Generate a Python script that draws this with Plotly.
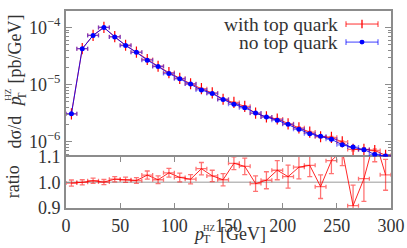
import plotly.graph_objects as go

# ---------------- data ----------------
pt = [5, 15, 25, 35, 45, 55, 65, 75, 85, 95, 105, 115, 125, 135, 145,
      155, 165, 175, 185, 195, 205, 215, 225, 235, 245, 255, 265, 275, 285, 295]
bin_half = [5] * 30
no_top = [3.08e-6, 4.24e-5, 7.24e-5, 1.0e-4, 6.81e-5, 4.83e-5, 3.66e-5, 2.67e-5,
          2.07e-5, 1.56e-5, 1.26e-5, 1.02e-5, 8.04e-6, 6.97e-6, 5.47e-6, 4.52e-6,
          3.92e-6, 3.17e-6, 2.69e-6, 2.38e-6, 2.01e-6, 1.65e-6, 1.38e-6, 1.24e-6,
          1.10e-6, 8.78e-7, 8.04e-7, 7.24e-7, 5.98e-7, 5.6e-7]
ratio = [0.997, 1.000, 1.006, 1.001, 1.012, 1.010, 1.007, 1.028, 1.010, 1.037,
         1.019, 1.012, 1.053, 1.025, 1.010, 1.074, 1.062, 0.995, 1.008, 1.047,
         1.022, 1.059, 1.066, 0.983, 1.084, 1.125, 0.909, 1.014, 1.17, 1.029]
ratio_err = [0.012, 0.010, 0.010, 0.010, 0.010, 0.010, 0.011, 0.016, 0.015, 0.017,
             0.017, 0.018, 0.024, 0.022, 0.024, 0.025, 0.032, 0.030, 0.033, 0.037,
             0.045, 0.046, 0.044, 0.046, 0.050, 0.060, 0.080, 0.088, 0.090, 0.060]
with_top = [b * r for b, r in zip(no_top, ratio)]
top_err_rel = [e * 0.7 for e in ratio_err]
no_top_err = [b * e for b, e in zip(no_top, top_err_rel)]
with_top_err = [b * e for b, e in zip(with_top, top_err_rel)]

x_ticks = [0, 50, 100, 150, 200, 250, 300]
y_ticks = [1e-6, 1e-5, 1e-4]
y_ticktext = ["10<sup>−6</sup>", "10<sup>−5</sup>", "10<sup>−4</sup>"]
r_ticks = [0.9, 1.0, 1.1]
r_ticktext = ["0.9", "1.0", "1.1"]

# ---------------- style ----------------
W, H = 407, 248
L, R, T, B = 66, 16, 1, 40
FONT = "Liberation Serif"
TXT = "#333333"
BORDER = "#8c8c8c"
RED = "rgba(255,0,0,0.85)"
RED_EB = "rgba(255,0,0,0.55)"
BLUE = "rgba(0,0,255,0.85)"
BLUE_EB = "rgba(0,0,255,0.5)"
split = 54 / 207


def px(x):
    return (x - L) / (W - L - R)


def py(y):
    return (H - B - y) / (H - T - B)


fig = go.Figure()

fig.add_trace(go.Scatter(
    x=pt, y=with_top, xaxis="x2", yaxis="y2", mode="lines+markers",
    line=dict(color=RED, width=1),
    marker=dict(symbol="line-ns", size=8, color="red", line=dict(width=1.2, color="red")),
    error_x=dict(type="data", array=bin_half, color=RED_EB, thickness=1.3, width=2),
    error_y=dict(type="data", array=with_top_err, color=RED_EB, thickness=1.3, width=2),
    showlegend=False))

fig.add_trace(go.Scatter(
    x=pt, y=no_top, xaxis="x2", yaxis="y2", mode="lines+markers",
    line=dict(color=BLUE, width=1),
    marker=dict(symbol="circle", size=5, color="blue"),
    error_x=dict(type="data", array=bin_half, color=BLUE_EB, thickness=1.3, width=2),
    error_y=dict(type="data", array=no_top_err, color=BLUE_EB, thickness=1.3, width=2),
    showlegend=False))

fig.add_trace(go.Scatter(
    x=pt, y=ratio, xaxis="x", yaxis="y", mode="lines",
    line=dict(color=RED, width=1),
    error_x=dict(type="data", array=bin_half, color=RED_EB, thickness=1.3, width=2),
    error_y=dict(type="data", array=ratio_err, color=RED_EB, thickness=1.3, width=2.5),
    showlegend=False))

axis_common = dict(showline=True, linecolor=BORDER, linewidth=2, showgrid=False,
                   zeroline=False, tickcolor=BORDER,
                   tickfont=dict(family=FONT, size=18, color=TXT))

fig.update_layout(
    width=W, height=H, margin=dict(l=L, r=R, t=T, b=B),
    paper_bgcolor="white", plot_bgcolor="white",
    font=dict(family=FONT, size=18, color=TXT),
    xaxis=dict(domain=[0, 1], anchor="y", range=[0, 300], tickvals=x_ticks,
               ticks="inside", ticklen=5, mirror="ticks", **axis_common),
    yaxis=dict(domain=[0, split], anchor="x", range=[0.9, 1.1], tickvals=r_ticks,
               ticktext=r_ticktext, ticks="inside", ticklen=4, mirror=True,
               **axis_common),
    xaxis2=dict(domain=[0, 1], anchor="y2", matches="x", range=[0, 300], side="top",
                showticklabels=False, ticks="", mirror=False, **axis_common),
    yaxis2=dict(domain=[split, 1], anchor="x2", type="log", range=[-6.262, -3.712],
                tickvals=y_ticks, ticktext=y_ticktext, ticks="inside", ticklen=6,
                mirror="ticks",
                minor=dict(ticks="inside", ticklen=3, dtick="D1", tickcolor=BORDER,
                           showgrid=False),
                **axis_common),
)

# reference line at ratio 1
fig.add_shape(type="line", xref="x domain", x0=0, x1=1, yref="y", y0=1, y1=1,
              line=dict(color="#bbbbbb", width=1.5), layer="below")

# ---------------- legend (drawn by hand) ----------------
leg = [("with top quark", 14.7, RED_EB, "red", "tick"),
       ("no top quark", 33.7, BLUE_EB, "blue", "dot")]
for label, yy, ebc, c, kind in leg:
    fig.add_annotation(text=label, xref="paper", yref="paper", x=px(340), y=py(yy),
                       xanchor="right", yanchor="middle", showarrow=False,
                       font=dict(family=FONT, size=19.5, color=TXT))
    fig.add_shape(type="line", xref="paper", yref="paper", x0=px(346), x1=px(378),
                  y0=py(yy), y1=py(yy), line=dict(color=ebc, width=1.5))
    for xe in (346, 378):
        fig.add_shape(type="line", xref="paper", yref="paper", x0=px(xe), x1=px(xe),
                      y0=py(yy - 3), y1=py(yy + 3), line=dict(color=ebc, width=1.5))
    if kind == "tick":
        fig.add_shape(type="line", xref="paper", yref="paper", x0=px(362), x1=px(362),
                      y0=py(yy - 4.5), y1=py(yy + 4.5), line=dict(color=c, width=1.3))
    else:
        fig.add_shape(type="circle", xref="paper", yref="paper", x0=px(359.5),
                      x1=px(364.5), y0=py(yy - 2.5), y1=py(yy + 2.5),
                      fillcolor=c, line=dict(color=c, width=0))

# ---------------- axis titles ----------------
def ann(text, x, y, size=18, angle=0, xa="center", ya="middle"):
    fig.add_annotation(text=text, xref="paper", yref="paper", x=px(x), y=py(y),
                       xanchor=xa, yanchor=ya, showarrow=False, textangle=angle,
                       font=dict(family=FONT, size=size, color=TXT))

# x title
ann("<i>p</i>", 191, 235, xa="left")
ann("HZ", 200.5, 229, size=9, xa="left")
ann("T", 200.5, 240.5, size=12, xa="left")
ann("[GeV]", 218, 235, xa="left")

# y title (rotated)
ann("dσ/d", 15, 148, angle=-90, ya="bottom")
ann("<i>p</i>", 15, 97, angle=-90)
ann("HZ", 8, 89, size=9, angle=-90)
ann("T", 22, 90, size=12, angle=-90)
ann("[pb/GeV]", 15, 3, angle=-90, ya="top")

ann("ratio", 13, 181, angle=-90)

fig.write_html("out.html", config={"displayModeBar": False},
               post_script="document.body.style.margin='0';"
                           "document.body.style.padding='0';")
